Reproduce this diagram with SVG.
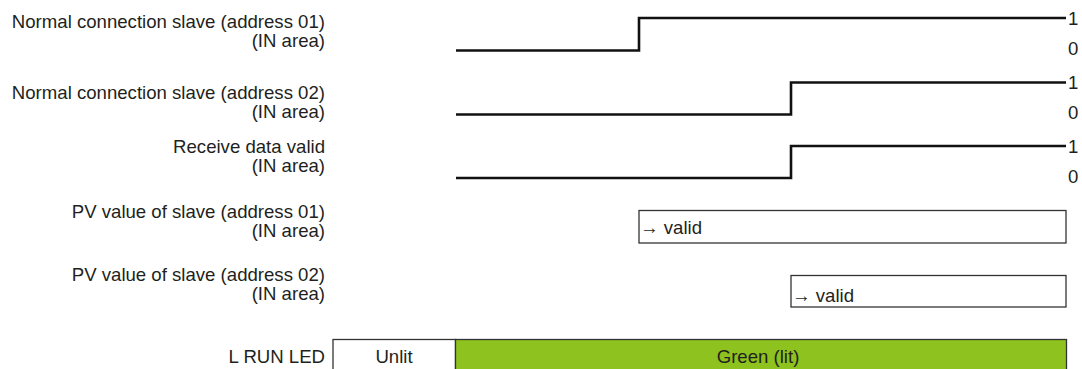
<svg xmlns="http://www.w3.org/2000/svg" width="1082" height="369" viewBox="0 0 1082 369">
<style>
text{font-family:"Liberation Sans",Arial,sans-serif;font-size:18.6px;fill:#231f20}
.lbl{text-anchor:end}
.mid{text-anchor:middle}
.sig{fill:none;stroke:#111;stroke-width:2.6}
.box{fill:#fff;stroke:#333;stroke-width:1.3}
.green{fill:#8dc21f;stroke:#333;stroke-width:1.3}
</style>
<rect width="1082" height="369" fill="#fff"/>
<g id="label-slave01"><text class="lbl" x="325" y="27.5">Normal connection slave (address 01)</text><text class="lbl" x="325" y="46.5">(IN area)</text></g>
<g id="label-slave02"><text class="lbl" x="325" y="99">Normal connection slave (address 02)</text><text class="lbl" x="325" y="118">(IN area)</text></g>
<g id="label-rdv"><text class="lbl" x="325" y="153">Receive data valid</text><text class="lbl" x="325" y="172">(IN area)</text></g>
<g id="label-pv01"><text class="lbl" x="325" y="218">PV value of slave (address 01)</text><text class="lbl" x="325" y="237">(IN area)</text></g>
<g id="label-pv02"><text class="lbl" x="325" y="281">PV value of slave (address 02)</text><text class="lbl" x="325" y="300">(IN area)</text></g>
<g id="label-led"><text class="lbl" x="325" y="363">L RUN LED</text></g>
<g id="connectors">
<polyline class="sig" points="456,50.5 639,50.5 639,18 1066,18"/>
<polyline class="sig" points="456,114.5 791,114.5 791,82.5 1066,82.5"/>
<polyline class="sig" points="456,178 791,178 791,146 1066,146"/>
</g>
<g id="levels">
<text x="1068" y="25">1</text><text x="1068" y="55">0</text>
<text x="1068" y="89">1</text><text x="1068" y="119">0</text>
<text x="1068" y="153">1</text><text x="1068" y="183">0</text>
</g>
<g id="pv01-box"><rect class="box" x="639" y="210.5" width="427" height="32.5"/><text x="640" y="234">→ valid</text></g>
<g id="pv02-box"><rect class="box" x="791" y="275.5" width="275" height="31.5"/><text x="792" y="302">→ valid</text></g>
<g id="led-unlit"><rect class="box" x="333" y="339.5" width="122.5" height="40"/><text class="mid" x="394" y="363">Unlit</text></g>
<g id="led-green"><rect class="green" x="455.5" y="339.5" width="611" height="40"/><text class="mid" x="758" y="363">Green (lit)</text></g>
</svg>
